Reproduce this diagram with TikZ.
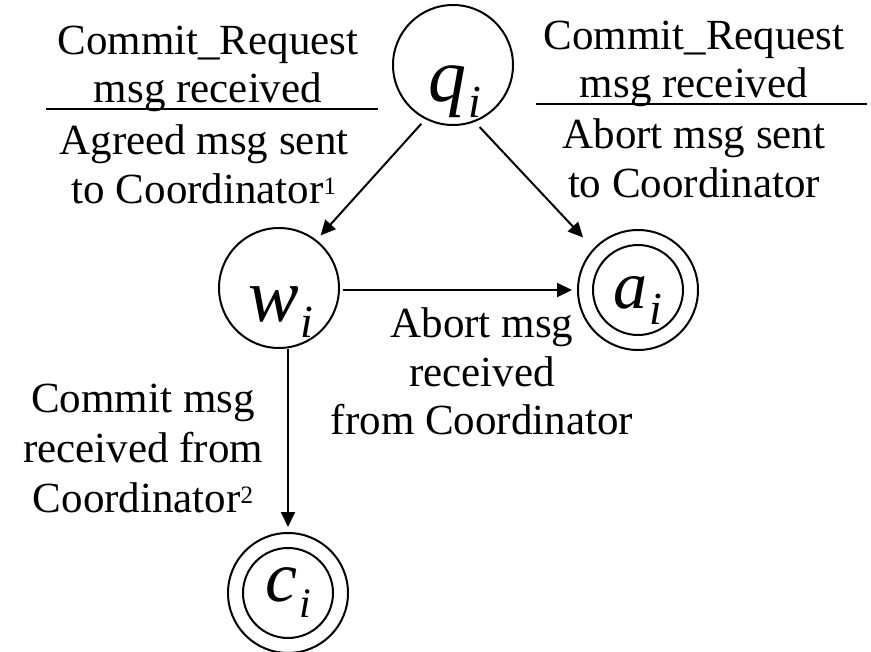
\documentclass[tikz,border=0pt]{standalone}
\usepackage{fontspec}
\setmainfont{Liberation Serif}
\usetikzlibrary{arrows.meta,calc}

\newcommand\stlab[4]{{\fontsize{#3}{#3}\selectfont\itshape #1}\kern2pt\raisebox{-16pt}{\fontsize{#4}{#4}\selectfont\itshape #2}}
\newcommand\supnum[1]{\raisebox{9pt}{\fontsize{25}{25}\selectfont #1}}

\begin{document}
\begin{tikzpicture}[x=1pt,y=-1pt,
  state/.style={circle,draw,line width=2pt,minimum size=120pt,inner sep=0pt},
  final/.style={state,path picture={\draw[line width=2pt] (path picture bounding box.center) circle[radius=45pt];}},
  arr/.style={line width=2pt,-{Triangle[length=15pt,width=14pt]}},
  txt/.style={font=\fontsize{43}{48.5}\selectfont,align=center,inner sep=0pt,anchor=north},
  bar/.style={line width=2pt}]
\useasboundingbox (0,0) rectangle (871,652);

\node[state,label={[anchor=base,inner sep=0pt,xshift=2pt,yshift=-27pt]center:\stlab{q}{i}{76}{46}}] (q) at (453,65) {};
\node[state,label={[anchor=base,inner sep=0pt,xshift=2pt,yshift=-24pt]center:\stlab{w}{i}{76}{46}}] (w) at (279,288) {};
\node[final,label={[anchor=base,inner sep=0pt,yshift=-10pt]center:\stlab{a}{i}{68}{46}}] (a) at (638,290) {};
\node[final,label={[anchor=base,inner sep=0pt,yshift=0pt]center:\stlab{c}{i}{72}{42}}] (c) at (288,593) {};

\draw[arr,shorten <=6pt,shorten >=6pt] (q.243) -- (w.52);
\draw[arr,shorten <=7pt,shorten >=15pt] (q.291) -- (a.137);
\draw[arr,shorten <=3pt,shorten >=5pt] ($(w.east)+(0,2)$) -- ($(w.east -| a.west)+(0,2)$);
\draw[arr,shorten >=5pt] (w.south -| c.north) -- (c.north);

\node[txt] (lu) at (208,25.6) {Commit\_Request\\msg received};
\node[txt] (ll) at (204,124.8) {Agreed msg sent\\to Coordinator\supnum{1}};
\draw[bar] (46,109) -- (378,109);

\node[txt] (ru) at (694,20.6) {Commit\_Request\\msg received};
\node[txt] (rl) at (694,118.6) {Abort msg sent\\to Coordinator};
\draw[bar] (536,104) -- (867,104);

\node[txt] (mid) at (482,307.6) {Abort msg\\received\\from Coordinator};
\node[txt,font=\fontsize{43}{50}\selectfont] (bl) at (143,383.6) {Commit msg\\received from\\Coordinator\supnum{2}};
\end{tikzpicture}
\end{document}
